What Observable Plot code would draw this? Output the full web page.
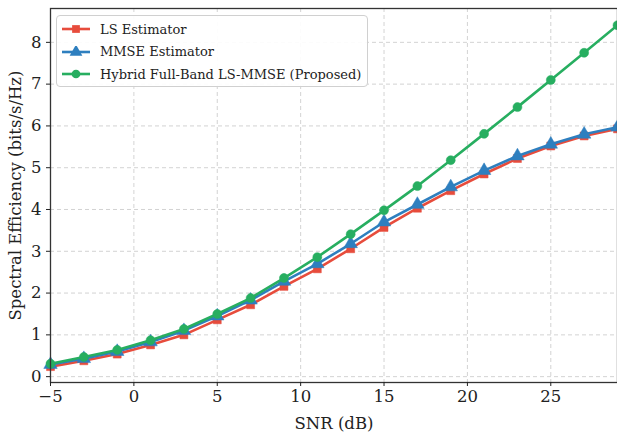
<!DOCTYPE html>
<html>
<head>
<meta charset="utf-8">
<script src="https://cdn.jsdelivr.net/npm/d3@7"></script>
<script src="https://cdn.jsdelivr.net/npm/@observablehq/plot@0.6"></script>
<style>
  html, body { margin: 0; padding: 0; background: #fff; }
  #wrap { position: relative; width: 617px; height: 434px; overflow: hidden; font-family: "DejaVu Serif", serif; }
  #legend { position: absolute; left: 56px; top: 15px; box-sizing: border-box; height: 72px; background: rgba(255,255,255,0.92); border: 1px solid #d0d0d0; border-radius: 4px; padding: 2px 6px 0 4px; font-size: 13px; color: #222; }
  #legend .row { display: flex; align-items: center; height: 22.5px; }
  #legend svg { margin-right: 9px; }
</style>
</head>
<body>
<div id="wrap"></div>
<script>
const snr = [-5, -3, -1, 1, 3, 5, 7, 9, 11, 13, 15, 17, 19, 21, 23, 25, 27, 29];
const lsValues     = [0.24, 0.38, 0.54, 0.76, 1.00, 1.36, 1.72, 2.16, 2.58, 3.06, 3.57, 4.03, 4.45, 4.85, 5.22, 5.52, 5.76, 5.93];
const mmseValues   = [0.29, 0.43, 0.60, 0.83, 1.10, 1.45, 1.83, 2.28, 2.70, 3.18, 3.70, 4.12, 4.54, 4.93, 5.28, 5.56, 5.80, 5.97];
const hybridValues = [0.31, 0.47, 0.64, 0.87, 1.14, 1.50, 1.88, 2.36, 2.86, 3.41, 3.98, 4.56, 5.18, 5.81, 6.45, 7.10, 7.75, 8.41];
const seriesNames = ["LS Estimator", "MMSE Estimator", "Hybrid Full-Band LS-MMSE (Proposed)"];
const seriesColors = ["#e74c3c", "#2e7fbf", "#27ae60"];
const seriesSymbols = ["square", "triangle", "circle"];
const xTicks = [-5, 0, 5, 10, 15, 20, 25];
const yTicks = [0, 1, 2, 3, 4, 5, 6, 7, 8];

const allSeries = [lsValues, mmseValues, hybridValues];
const data = allSeries.flatMap((vals, i) => vals.map((v, j) => ({series: seriesNames[i], snr: snr[j], se: v, idx: i})));

const marks = [
  Plot.gridX(xTicks, {stroke: "#b0b0b0", strokeOpacity: 0.7, strokeDasharray: "4,3", strokeWidth: 0.8}),
  Plot.gridY(yTicks, {stroke: "#b0b0b0", strokeOpacity: 0.7, strokeDasharray: "4,3", strokeWidth: 0.8}),
];
allSeries.forEach((vals, i) => {
  const d = data.filter(r => r.idx === i);
  marks.push(Plot.line(d, {x: "snr", y: "se", stroke: seriesColors[i], strokeWidth: 2.6}));
  marks.push(Plot.dot(d, {x: "snr", y: "se", fill: seriesColors[i], stroke: seriesColors[i], strokeWidth: 0.5, symbol: seriesSymbols[i], r: i === 1 ? 5 : 4.5}));
});
marks.push(
  Plot.frame({stroke: "#333", strokeWidth: 1.3}),
  Plot.axisX(xTicks, {tickSize: 4, tickPadding: 4, fontSize: 16.5, color: "#222", label: "SNR (dB)", labelAnchor: "center", labelOffset: 46, labelArrow: "none"}),
  Plot.axisY(yTicks, {tickSize: 4, tickPadding: 5, fontSize: 16.5, color: "#222", label: "Spectral Efficiency (bits/s/Hz)", labelAnchor: "center", labelOffset: 41, labelArrow: "none"})
);

const chart = Plot.plot({
  width: 617,
  height: 434,
  marginLeft: 50,
  marginRight: 0,
  marginTop: 8,
  marginBottom: 52,
  style: {fontFamily: "DejaVu Serif, serif", fontSize: "16.5px", color: "#222", background: "#fff"},
  x: {domain: [-5, 29]},
  y: {domain: [-0.14, 8.81]},
  marks
});
document.getElementById("wrap").appendChild(chart);

// legend
const legend = document.createElement("div");
legend.id = "legend";
seriesNames.forEach((name, i) => {
  const row = document.createElement("div");
  row.className = "row";
  const sw = d3.create("svg").attr("width", 30).attr("height", 12);
  sw.append("line").attr("x1", 1).attr("x2", 29).attr("y1", 6).attr("y2", 6).attr("stroke", seriesColors[i]).attr("stroke-width", 2.6);
  const sym = {square: d3.symbolSquare, triangle: d3.symbolTriangle, circle: d3.symbolCircle}[seriesSymbols[i]];
  sw.append("path").attr("transform", "translate(15,6)").attr("d", d3.symbol(sym, i === 1 ? 70 : 60)()).attr("fill", seriesColors[i]);
  row.appendChild(sw.node());
  const t = document.createElement("span");
  t.textContent = name;
  row.appendChild(t);
  legend.appendChild(row);
});
document.getElementById("wrap").appendChild(legend);
</script>
</body>
</html>
